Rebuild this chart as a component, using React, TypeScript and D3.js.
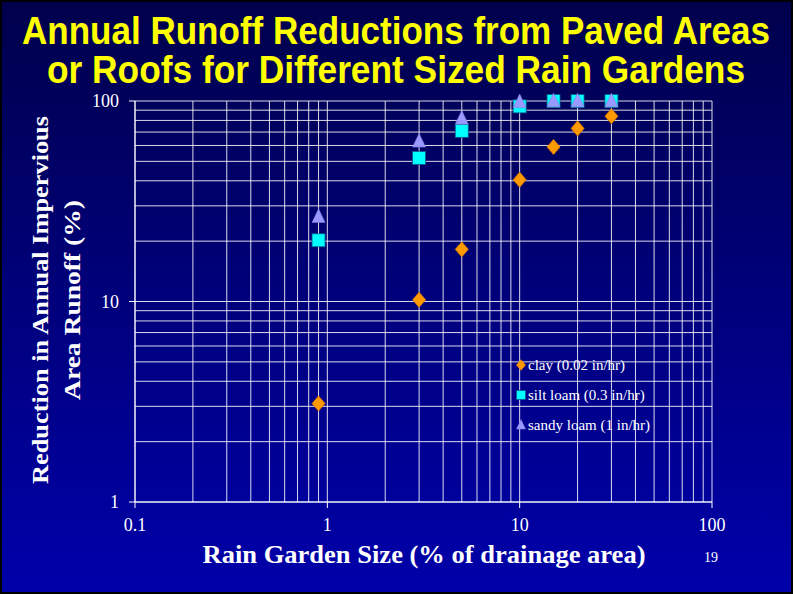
import React from "react";
import * as d3 from "d3";

// Rain garden size as % of drainage area
const sizes = [0.9, 3, 5, 10, 15, 20, 30];
// Reduction in annual impervious area runoff (%)
const clay = [3.1, 10.2, 18.2, 40.5, 59, 73, 84];
const siltLoam = [20.2, 52, 71, 94, 100, 100, 100];
const sandyLoam = [26.5, 63, 82, 99, 100, 100, 100];

const seriesNames = ["clay (0.02 in/hr)", "silt loam (0.3 in/hr)", "sandy loam (1 in/hr)"];
const xTicks = [0.1, 1, 10, 100];
const yTicks = [1, 10, 100];

const W = 793;
const H = 594;
const left = 135;
const right = 712;
const top = 101;
const bottom = 502;

const x = d3.scaleLog().domain([0.1, 100]).range([left, right]);
const y = d3.scaleLog().domain([1, 100]).range([bottom, top]);

function minorValues(lo: number, hi: number): number[] {
  const out: number[] = [];
  for (let dec = lo; dec < hi; dec *= 10) {
    for (let k = 1; k < 10; k++) out.push(dec * k);
  }
  out.push(hi);
  return out;
}

function Marker({ kind, cx, cy, s }: { kind: number; cx: number; cy: number; s: number }) {
  if (kind === 0) {
    const p = `M${cx},${cy - s * 0.58} L${cx + s * 0.5},${cy} L${cx},${cy + s * 0.58} L${cx - s * 0.5},${cy} Z`;
    return <path d={p} fill="#FF9900" stroke="#E07800" strokeWidth={0.8} />;
  }
  if (kind === 1) {
    return (
      <rect x={cx - s / 2} y={cy - s / 2} width={s} height={s} fill="#00FFFF" stroke="#0A5A8A" strokeWidth={0.8} />
    );
  }
  const p = `M${cx},${cy - s * 0.6} L${cx + s * 0.5},${cy + s * 0.45} L${cx - s * 0.5},${cy + s * 0.45} Z`;
  return <path d={p} fill="#9999FF" stroke="#8080E0" strokeWidth={0.6} />;
}

export default function App() {
  const xGrid = minorValues(0.1, 100);
  const yGrid = minorValues(1, 100);
  const all = [clay, siltLoam, sandyLoam];

  return (
    <svg
      width={W}
      height={H}
      style={{ position: "fixed", left: 0, top: 0, display: "block" }}
      fontFamily="'Liberation Serif', 'Times New Roman', serif"
    >
      <defs>
        <linearGradient id="bg" x1="0" y1="0" x2="0" y2="1">
          <stop offset="0" stopColor="#00004C" />
          <stop offset="1" stopColor="#0000AA" />
        </linearGradient>
      </defs>
      <rect x={0} y={0} width={W} height={H} fill="#000" />
      <rect x={2} y={2} width={W - 4} height={H - 4} fill="url(#bg)" />

      {/* title: tall, narrow lettering */}
      <g fontFamily="'Liberation Sans', Arial, sans-serif" fontWeight="bold" fill="#FFFF00" fontSize={32}>
        <g transform="translate(396,44) scale(1,1.2)">
          <text x={0} y={0} textAnchor="middle" textLength={748} lengthAdjust="spacingAndGlyphs">
            Annual Runoff Reductions from Paved Areas
          </text>
        </g>
        <g transform="translate(396,83) scale(1,1.2)">
          <text x={0} y={0} textAnchor="middle" textLength={698} lengthAdjust="spacingAndGlyphs">
            or Roofs for Different Sized Rain Gardens
          </text>
        </g>
      </g>

      {/* grid */}
      <g stroke="#FFFFFF" strokeOpacity={0.85} strokeWidth={1}>
        {yGrid.map((v) => (
          <line key={"h" + v} x1={left} x2={right} y1={y(v)} y2={y(v)} />
        ))}
        {xGrid.map((v) => (
          <line key={"v" + v} x1={x(v)} x2={x(v)} y1={top} y2={bottom} />
        ))}
      </g>

      {/* axes */}
      <g stroke="#FFFFFF" strokeWidth={1}>
        <line x1={left} x2={left} y1={top} y2={bottom} />
        <line x1={left} x2={right} y1={bottom} y2={bottom} />
        {yTicks.map((v) => (
          <line key={"yt" + v} x1={left - 6} x2={left} y1={y(v)} y2={y(v)} />
        ))}
        {xTicks.map((v) => (
          <line key={"xt" + v} x1={x(v)} x2={x(v)} y1={bottom} y2={bottom + 6} />
        ))}
      </g>

      {/* tick labels */}
      <g fill="#FFFFFF" fontSize={18}>
        {yTicks.map((v) => (
          <text key={"yl" + v} x={left - 16} y={y(v) + 6} textAnchor="end">
            {v}
          </text>
        ))}
        {xTicks.map((v) => (
          <text key={"xl" + v} x={x(v)} y={531} textAnchor="middle">
            {v}
          </text>
        ))}
      </g>

      {/* axis titles */}
      <g fill="#FFFFFF" fontWeight="bold">
        <text x={424} y={563} textAnchor="middle" fontSize={25} textLength={443} lengthAdjust="spacingAndGlyphs">
          Rain Garden Size (% of drainage area)
        </text>
        <g transform="translate(48,300) rotate(-90)" fontSize={24}>
          <text x={0} y={0} textAnchor="middle" textLength={368} lengthAdjust="spacingAndGlyphs">
            Reduction in Annual Impervious
          </text>
          <text x={0} y={32} textAnchor="middle" textLength={200} lengthAdjust="spacingAndGlyphs">
            Area Runoff (%)
          </text>
        </g>
      </g>
      <text x={711} y={562} fill="#FFFFFF" fontSize={14} textAnchor="middle">
        19
      </text>

      {/* data points */}
      {all.map((vals, si) => (
        <g key={"s" + si}>
          {vals.map((v, i) => (
            <Marker key={i} kind={si} cx={x(sizes[i])} cy={y(v)} s={13} />
          ))}
        </g>
      ))}

      {/* legend */}
      <g fill="#FFFFFF" fontSize={15}>
        {seriesNames.map((name, i) => (
          <g key={name} transform={`translate(521,${365 + i * 30})`}>
            <Marker kind={i} cx={0} cy={0} s={9} />
            <text x={7} y={5}>
              {name}
            </text>
          </g>
        ))}
      </g>
    </svg>
  );
}
